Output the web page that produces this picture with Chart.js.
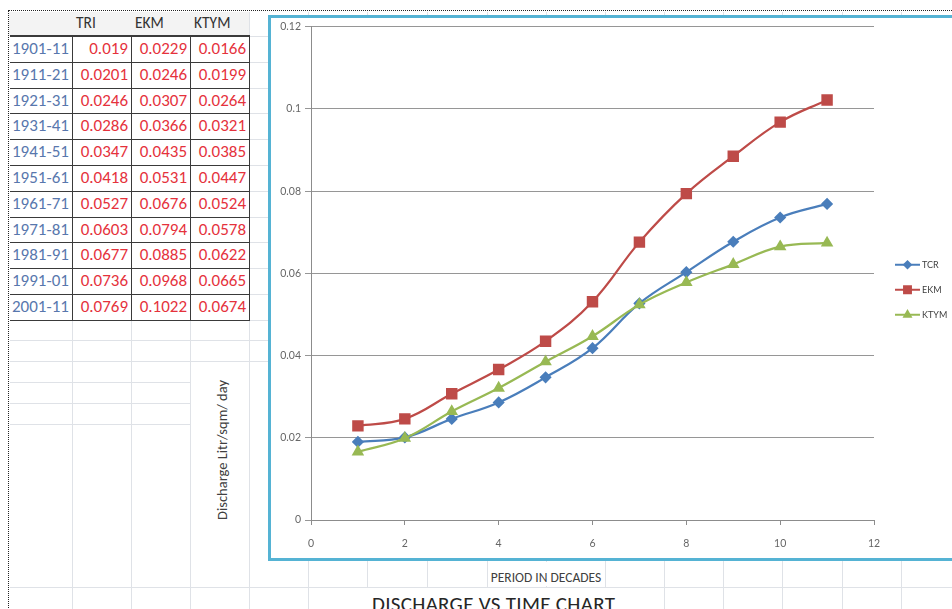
<!DOCTYPE html>
<html>
<head>
<meta charset="utf-8">
<script src="https://cdn.jsdelivr.net/npm/chart.js"></script>
<style>
  html, body { margin: 0; padding: 0; width: 952px; height: 609px; overflow: hidden; background: #fff; }
  body { position: relative; font-family: Carlito, Lato, "Open Sans", sans-serif; }
  .gl { position: absolute; background: #dfe2e7; z-index: 1; }
  .bl { position: absolute; background: #3a3a3a; z-index: 3; }
  .cell { position: absolute; z-index: 2; font-size: 17px; line-height: 26px; white-space: nowrap; box-sizing: border-box;
          font-variant-numeric: tabular-nums; }
  .hdr { color: #333; padding-left: 4px; line-height: 22px; font-size: 15.5px; }
  .lbl { color: #5877ad; padding-left: 2px; }
  .val { color: #e5323c; text-align: right; padding-right: 3px; }
  #dotTop { position: absolute; left: 8px; top: 10px; width: 960px; border-top: 1px dotted #222; z-index: 6; }
  #dotLeft { position: absolute; left: 8px; top: 10px; height: 610px; border-left: 1px dotted #222; z-index: 6; }
  #frame { position: absolute; left: 268px; top: 15px; width: 720px; height: 546px; box-sizing: border-box;
           border: 3px solid #55b3d4; background: #fff; z-index: 4; }
  #chartBox { position: absolute; left: 271px; top: 18px; width: 681px; height: 540px; z-index: 5; }
  .txt { position: absolute; z-index: 5; white-space: nowrap; color: #404040; }
  #yTitle { left: 222px; top: 450px; font-size: 14.5px; transform: translate(-50%, -50%) rotate(-90deg); }
  #xTitle { left: 488px; top: 562px; width: 116px; height: 24px; background: #fff; text-align: center; font-size: 13.5px; line-height: 32px; }
  #titleBg { position: absolute; left: 310px; top: 588px; width: 354px; height: 21px; background: #fff; z-index: 4; }
  #mainTitle { left: 372px; top: 594px; font-size: 21px; letter-spacing: 0.3px; line-height: 20px; color: #262626; }
</style>
</head>
<body>
<div id="dotTop"></div>
<div id="dotLeft"></div>
<div id="grid"></div>
<div id="table"></div>
<div id="frame"></div>
<div id="chartBox"><canvas id="chart" width="681" height="540"></canvas></div>
<div class="txt" id="yTitle">Discharge Litr/sqm/ day</div>
<div class="txt" id="xTitle">PERIOD IN DECADES</div>
<div id="titleBg"></div>
<div class="txt" id="mainTitle">DISCHARGE VS TIME CHART</div>

<script>
// data read from the sheet
const periods = ["1901-11", "1911-21", "1921-31", "1931-41", "1941-51", "1951-61",
                 "1961-71", "1971-81", "1981-91", "1991-01", "2001-11"];
const decades = [1, 2, 3, 4, 5, 6, 7, 8, 9, 10, 11];
const tri  = [0.019, 0.0201, 0.0246, 0.0286, 0.0347, 0.0418, 0.0527, 0.0603, 0.0677, 0.0736, 0.0769];
const ekm  = [0.0229, 0.0246, 0.0307, 0.0366, 0.0435, 0.0531, 0.0676, 0.0794, 0.0885, 0.0968, 0.1022];
const ktym = [0.0166, 0.0199, 0.0264, 0.0321, 0.0385, 0.0447, 0.0524, 0.0578, 0.0622, 0.0665, 0.0674];
const tableHeaders = ["TRI", "EKM", "KTYM"];
const legendNames = ["TCR", "EKM", "KTYM"];

// sheet layout
const sheetCols = [72, 131, 190, 249, 308, 367, 427, 487, 546, 605, 664, 723, 782, 842, 901];
const tableCols = [10, 72, 131, 190, 249];
const headerTop = 12, headerBottom = 36, rowH = 25.8;
const rowTop = r => Math.round(headerBottom + r * rowH);

function addDiv(parent, cls, l, t, w, h, text) {
  const d = document.createElement("div");
  d.className = cls;
  d.style.left = l + "px"; d.style.top = t + "px";
  d.style.width = w + "px"; d.style.height = h + "px";
  if (text !== undefined) d.textContent = text;
  parent.appendChild(d);
  return d;
}

// faint spreadsheet gridlines
const grid = document.getElementById("grid");
sheetCols.forEach(x => addDiv(grid, "gl", x, headerTop, 1, 609 - headerTop));
for (let r = 0; r <= periods.length; r++) {
  addDiv(grid, "gl", 249, rowTop(r), 20, 1);
}
[340, 361].forEach(y => addDiv(grid, "gl", 10, y, 258, 1));
[382, 403, 424].forEach(y => addDiv(grid, "gl", 10, y, 180, 1));
addDiv(grid, "gl", 10, 587, 950, 1);

// table
const table = document.getElementById("table");
addDiv(table, "cell", 9, headerTop, 240, headerBottom - headerTop).style.background = "#f3f3f3";
tableHeaders.forEach((h, c) => {
  addDiv(table, "cell hdr", tableCols[c + 1], headerTop, tableCols[c + 2] - tableCols[c + 1], headerBottom - headerTop, h);
});
const series = [tri, ekm, ktym];
periods.forEach((p, r) => {
  const top = rowTop(r), h = rowTop(r + 1) - top;
  addDiv(table, "cell lbl", tableCols[0], top, tableCols[1] - tableCols[0], h, p);
  series.forEach((s, c) => {
    addDiv(table, "cell val", tableCols[c + 1], top, tableCols[c + 2] - tableCols[c + 1], h, String(s[r]));
  });
});
addDiv(table, "bl", 10, headerBottom - 1, 240, 2);
for (let r = 1; r <= periods.length; r++) {
  addDiv(table, "bl", 10, rowTop(r), 240, 1);
}
tableCols.slice(1).forEach(x => addDiv(table, "bl", x, headerBottom, 1, rowTop(periods.length) - headerBottom + 1));

// legend drawn the Excel way: short line with the marker on it
const excelLegend = {
  id: "excelLegend",
  afterDraw(chart) {
    const { ctx, chartArea } = chart;
    const x0 = chartArea.right + 21;
    chart.data.datasets.forEach((ds, i) => {
      const y = chartArea.top + 238 + i * 25;
      ctx.save();
      ctx.strokeStyle = ds.borderColor;
      ctx.fillStyle = ds.borderColor;
      ctx.lineWidth = 2;
      ctx.beginPath();
      ctx.moveTo(x0, y);
      ctx.lineTo(x0 + 25, y);
      ctx.stroke();
      Chart.helpers.drawPoint(ctx, { pointStyle: ds.pointStyle, radius: ds.pointRadius * 0.75, borderWidth: 1 }, x0 + 12.5, y);
      ctx.fillStyle = "#404040";
      ctx.font = "9px Lato";
      ctx.textBaseline = "middle";
      ctx.fillText(ds.label, x0 + 27, y);
      ctx.restore();
    });
  }
};

const toPoints = vals => decades.map((d, i) => ({ x: d, y: vals[i] }));
const tickFont = { family: "Lato", size: 10.5 };

new Chart(document.getElementById("chart"), {
  type: "line",
  data: {
    datasets: [
      { label: legendNames[0], data: toPoints(tri), borderColor: "#4a7ebb", backgroundColor: "#4a7ebb",
        pointStyle: "rectRot", pointRadius: 4.5, borderWidth: 2.25, tension: 0.4, order: 3 },
      { label: legendNames[1], data: toPoints(ekm), borderColor: "#be4b48", backgroundColor: "#be4b48",
        pointStyle: "rect", pointRadius: 6.5, borderWidth: 2.25, tension: 0.4, order: 2 },
      { label: legendNames[2], data: toPoints(ktym), borderColor: "#98b954", backgroundColor: "#98b954",
        pointStyle: "triangle", pointRadius: 5, borderWidth: 2.25, tension: 0.4, order: 1 }
    ]
  },
  options: {
    responsive: false,
    animation: false,
    devicePixelRatio: 1,
    layout: { padding: { top: 6, right: 78, left: 0, bottom: 0 } },
    plugins: { legend: { display: false }, tooltip: { enabled: false } },
    scales: {
      x: {
        type: "linear", min: 0, max: 12,
        ticks: { stepSize: 2, color: "#666", font: tickFont, padding: 12, maxRotation: 0 },
        grid: { drawOnChartArea: false, tickLength: 5, color: "#8c8c8c" },
        border: { color: "#8c8c8c" },
        afterFit: s => { s.height = 38; s.paddingLeft = 0; s.paddingRight = 0; }
      },
      y: {
        min: 0, max: 0.12,
        ticks: { stepSize: 0.02, color: "#666", font: tickFont, padding: 4,
                 callback: v => String(+v.toFixed(2)) },
        grid: { color: "#969696", tickLength: 6 },
        border: { color: "#8c8c8c" },
        afterFit: s => { s.width = 40; s.paddingTop = 0; s.paddingBottom = 0; }
      }
    }
  },
  plugins: [excelLegend]
});
</script>
</body>
</html>
